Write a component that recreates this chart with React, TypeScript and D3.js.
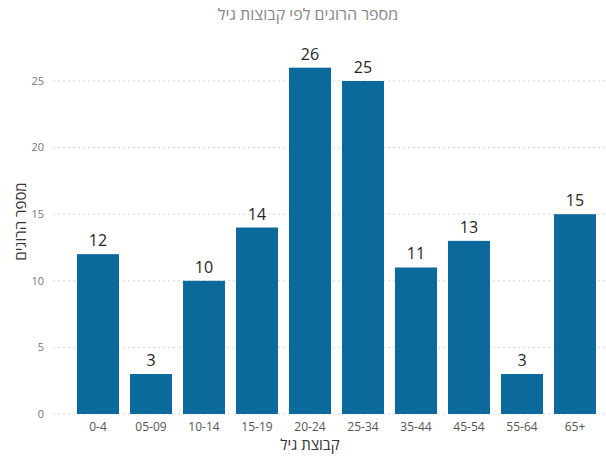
import React from "react";
import * as d3 from "d3";

const categories = ["0-4", "05-09", "10-14", "15-19", "20-24", "25-34", "35-44", "45-54", "55-64", "65+"];
const values = [12, 3, 10, 14, 26, 25, 11, 13, 3, 15];
const yTicks = [0, 5, 10, 15, 20, 25];
const title = "מספר הרוגים לפי קבוצות גיל";
const xTitle = "קבוצת גיל";
const yTitle = "מספר הרוגים";

const W = 606;
const H = 461;
const FONT = "'Segoe UI', 'Open Sans', 'DejaVu Sans', sans-serif";

export default function App() {
  const x = d3
    .scaleBand<string>()
    .domain(categories)
    .range([71.5, 601.5])
    .paddingInner(0.2075)
    .paddingOuter(0.10375);
  const y = d3.scaleLinear().domain([0, 25]).range([414, 81]);

  return (
    <svg
      width={W}
      height={H}
      style={{ position: "absolute", left: 0, top: 0, background: "#fff" }}
      fontFamily={FONT}
    >
      <rect x={0} y={0} width={W} height={H} fill="#fff" />
      <text x={308} y={20} textAnchor="middle" fontSize={16} fill="#888">
        {title}
      </text>
      {yTicks.map((t) => (
        <g key={t}>
          <line
            x1={53}
            x2={W}
            y1={y(t)}
            y2={y(t)}
            stroke="#d8d8d8"
            strokeDasharray="2,3"
            strokeWidth={1}
          />
          <text x={44} y={y(t)} dy="0.35em" textAnchor="end" fontSize={11} fill="#777">
            {t}
          </text>
        </g>
      ))}
      <text
        transform={`translate(21,${(81 + 414) / 2 - 26}) rotate(-90)`}
        textAnchor="middle"
        dy="0.35em"
        fontSize={15}
        fill="#333"
      >
        {yTitle}
      </text>
      {categories.map((c, i) => (
        <g key={c}>
          <rect
            x={x(c)}
            y={y(values[i])}
            width={x.bandwidth()}
            height={y(0) - y(values[i])}
            fill="#0b6a9b"
          />
          <text
            x={(x(c) as number) + x.bandwidth() / 2}
            y={y(values[i]) - 8}
            textAnchor="middle"
            fontSize={16}
            fill="#252525"
          >
            {values[i]}
          </text>
          <text
            x={(x(c) as number) + x.bandwidth() / 2}
            y={431}
            textAnchor="middle"
            fontSize={12}
            fill="#555"
            style={{ direction: "ltr", unicodeBidi: "bidi-override" }}
          >
            {c}
          </text>
        </g>
      ))}
      <text x={310} y={450} textAnchor="middle" fontSize={15} fill="#333">
        {xTitle}
      </text>
    </svg>
  );
}
